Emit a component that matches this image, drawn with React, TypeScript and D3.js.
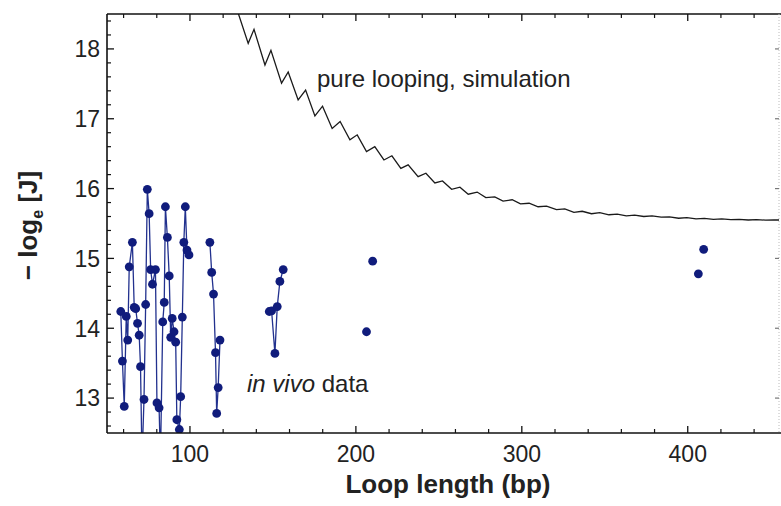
import React from 'react';
import * as d3 from 'd3';

const W = 781;
const H = 506;
const PLOT_LEFT = 107;
const PLOT_RIGHT = 779;
const PLOT_TOP = 14;
const PLOT_BOTTOM = 433;

const xDomain: [number, number] = [50, 455];
const yDomain: [number, number] = [12.5, 18.5];
const xMajorTicks = [100, 200, 300, 400];
const yMajorTicks = [13, 14, 15, 16, 17, 18];

// pure looping, simulation (bp, -log J)
const simulation: [number, number][] = [
  [127.5, 18.75], [129.1, 18.51], [135.1, 18.08], [138.6, 18.28],
  [145.2, 17.77], [148.8, 17.98], [155.2, 17.51], [159.2, 17.67],
  [165.2, 17.27], [169.7, 17.41], [175.3, 17.04], [179.9, 17.18],
  [185.7, 16.86], [190.5, 16.96], [196.4, 16.70], [200.8, 16.77],
  [206.4, 16.53], [211.4, 16.60], [216.9, 16.41], [221.7, 16.47],
  [227.1, 16.29], [231.5, 16.34], [237.5, 16.17], [242.2, 16.22],
  [247.6, 16.08], [252.2, 16.11], [257.7, 15.99], [262.7, 16.02],
  [267.7, 15.92], [273.1, 15.95], [278.3, 15.87], [283.7, 15.88],
  [288.7, 15.82], [294.2, 15.84], [299.2, 15.78], [304.4, 15.79],
  [309.8, 15.74], [314.9, 15.75], [320.9, 15.70], [325.9, 15.71],
  [331.4, 15.66], [336.4, 15.675], [342.0, 15.64], [347.0, 15.655],
  [352.5, 15.625], [357.5, 15.635], [363.0, 15.61], [368.0, 15.62],
  [373.5, 15.60], [378.5, 15.61], [384.0, 15.59], [389.0, 15.595],
  [394.5, 15.575], [399.5, 15.585], [405.0, 15.565], [410.0, 15.572],
  [415.5, 15.56], [420.5, 15.566], [426.0, 15.555], [431.0, 15.56],
  [436.5, 15.55], [441.5, 15.555], [447.0, 15.548], [452.0, 15.553],
  [456.0, 15.549],
];

// in vivo data, connected runs (bp, -log J)
const invivoRun1: [number, number][] = [
  [58.3, 14.24], [59.3, 13.53], [60.4, 12.88], [61.6, 14.17], [62.5, 13.83],
  [63.4, 14.88], [65.3, 15.23], [66.4, 14.30], [67.3, 14.28], [68.4, 14.07],
  [69.4, 13.90], [70.2, 13.45], [71.1, 12.1], [72.3, 12.98], [73.3, 14.34],
  [74.3, 15.99], [75.4, 15.64], [76.3, 14.84], [77.4, 14.63], [79.2, 14.84],
  [80.1, 12.93], [81.4, 12.86], [82.2, 12.1], [83.6, 14.09], [84.5, 14.37],
  [85.2, 15.74], [86.4, 15.30], [87.5, 14.75], [88.4, 13.87], [89.3, 14.14],
  [90.4, 13.95], [91.4, 13.80], [92.1, 12.69], [93.6, 12.55], [94.4, 13.02],
  [95.4, 14.16], [96.3, 15.23], [97.2, 15.74], [98.2, 15.12], [99.4, 15.05],
];
const invivoRun2: [number, number][] = [
  [112.0, 15.23], [113.1, 14.80], [114.2, 14.49], [115.4, 13.65],
  [116.1, 12.78], [117.0, 13.15], [118.1, 13.83],
];
const invivoRun3: [number, number][] = [
  [147.8, 14.24], [149.2, 14.25], [151.2, 13.64], [152.6, 14.31],
  [154.2, 14.67], [156.2, 14.84],
];
const invivoSingles: [number, number][] = [
  [206.4, 13.95], [210.1, 14.96], [406.4, 14.78], [409.6, 15.13],
];

const FONT = '"Liberation Sans", Arial, Helvetica, sans-serif';
const POINT_FILL = '#101c7c';
const LINE_STROKE = '#22318e';

export default function App() {
  const x = d3.scaleLinear().domain(xDomain).range([PLOT_LEFT, PLOT_RIGHT]);
  const y = d3.scaleLinear().domain(yDomain).range([PLOT_BOTTOM, PLOT_TOP]);
  const line = d3
    .line<[number, number]>()
    .x((d) => x(d[0]))
    .y((d) => y(d[1]));

  const xMinor = d3.range(60, 455, 20).filter((v) => !xMajorTicks.includes(v));
  const yMinor = d3
    .range(12.6, 18.5, 0.2)
    .map((v) => Math.round(v * 10) / 10)
    .filter((v) => !yMajorTicks.includes(v));

  const runs = [invivoRun1, invivoRun2, invivoRun3];
  const allPoints = [...invivoRun1, ...invivoRun2, ...invivoRun3, ...invivoSingles];

  return (
    <svg
      width={W}
      height={H}
      style={{ position: 'absolute', left: 0, top: 0, background: '#fff' }}
    >
      <defs>
        <clipPath id="plotClip">
          <rect
            x={PLOT_LEFT}
            y={PLOT_TOP}
            width={PLOT_RIGHT - PLOT_LEFT}
            height={PLOT_BOTTOM - PLOT_TOP}
          />
        </clipPath>
      </defs>
      <rect x={0} y={0} width={W} height={H} fill="#fff" />

      <g clipPath="url(#plotClip)">
        <path d={line(simulation) || ''} fill="none" stroke="#1a1a1a" strokeWidth={1.3} />
        {runs.map((r, i) => (
          <path key={i} d={line(r) || ''} fill="none" stroke={LINE_STROKE} strokeWidth={1.3} />
        ))}
        {allPoints.map((d, i) => (
          <circle key={i} cx={x(d[0])} cy={y(d[1])} r={4.4} fill={POINT_FILL} />
        ))}
      </g>

      {/* frame */}
      <line x1={PLOT_LEFT} x2={W} y1={PLOT_TOP} y2={PLOT_TOP} stroke="#111" strokeWidth={1.6} />
      <line x1={PLOT_LEFT} x2={W} y1={PLOT_BOTTOM} y2={PLOT_BOTTOM} stroke="#111" strokeWidth={1.6} />
      <line x1={PLOT_LEFT} x2={PLOT_LEFT} y1={PLOT_TOP} y2={PLOT_BOTTOM} stroke="#111" strokeWidth={1.6} />
      <line
        x1={PLOT_RIGHT}
        x2={PLOT_RIGHT}
        y1={PLOT_TOP}
        y2={PLOT_BOTTOM}
        stroke="#bbb"
        strokeWidth={1}
        strokeDasharray="1 2"
      />

      {/* x ticks bottom & top */}
      {xMajorTicks.map((v) => (
        <g key={'xM' + v}>
          <line x1={x(v)} x2={x(v)} y1={PLOT_BOTTOM} y2={PLOT_BOTTOM - 7} stroke="#111" strokeWidth={1.3} />
          <line x1={x(v)} x2={x(v)} y1={PLOT_TOP} y2={PLOT_TOP + 7} stroke="#111" strokeWidth={1.3} />
          <text
            x={x(v)}
            y={462}
            textAnchor="middle"
            fontFamily={FONT}
            fontSize={23}
            fill="#222"
          >
            {v}
          </text>
        </g>
      ))}
      {xMinor.map((v) => (
        <g key={'xm' + v}>
          <line x1={x(v)} x2={x(v)} y1={PLOT_BOTTOM} y2={PLOT_BOTTOM - 4} stroke="#111" strokeWidth={1.2} />
          <line x1={x(v)} x2={x(v)} y1={PLOT_TOP} y2={PLOT_TOP + 4} stroke="#111" strokeWidth={1.2} />
        </g>
      ))}

      {/* y ticks */}
      {yMajorTicks.map((v) => (
        <g key={'yM' + v}>
          <line x1={PLOT_LEFT} x2={PLOT_LEFT + 7} y1={y(v)} y2={y(v)} stroke="#111" strokeWidth={1.3} />
          <line x1={PLOT_RIGHT} x2={PLOT_RIGHT - 4} y1={y(v)} y2={y(v)} stroke="#777" strokeWidth={1.2} />
          <text
            x={100}
            y={y(v)}
            dy="0.36em"
            textAnchor="end"
            fontFamily={FONT}
            fontSize={23}
            fill="#222"
          >
            {v}
          </text>
        </g>
      ))}
      {yMinor.map((v) => (
        <line
          key={'ym' + v}
          x1={PLOT_LEFT}
          x2={PLOT_LEFT + 4}
          y1={y(v)}
          y2={y(v)}
          stroke="#111"
          strokeWidth={1.2}
        />
      ))}

      {/* axis titles */}
      <text
        x={448}
        y={493}
        textAnchor="middle"
        fontFamily={FONT}
        fontSize={26}
        fontWeight="bold"
        fill="#222"
      >
        Loop length (bp)
      </text>
      <text
        transform={`translate(37, ${(PLOT_TOP + PLOT_BOTTOM) / 2 + 2}) rotate(-90)`}
        textAnchor="middle"
        fontFamily={FONT}
        fontSize={26}
        fontWeight="bold"
        fill="#222"
      >
        <tspan>− log</tspan>
        <tspan fontSize={16} dy={6}>e</tspan>
        <tspan dy={-6}> [J]</tspan>
      </text>

      {/* annotations */}
      <text x={317} y={87} fontFamily={FONT} fontSize={24} fill="#222">
        pure looping, simulation
      </text>
      <text x={247} y={392} fontFamily={FONT} fontSize={24} fill="#222">
        <tspan fontStyle="italic">in vivo</tspan> data
      </text>
    </svg>
  );
}
